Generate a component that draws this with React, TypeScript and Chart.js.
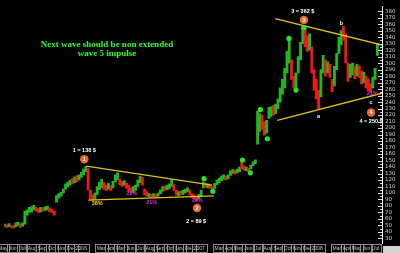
import React, { useEffect, useRef } from 'react';
import { Chart, registerables } from 'chart.js';

Chart.register(...registerables);

// x positions are weeks counted from 1 Jan 2006
const firstWeek = -34;
const lows = [
  48, 47, 48, 47, 46, 48, 50, 47, 49, 52,
  66, 70, 71, 74, 72, 70, 71, 72, 73, 74,
  71, 70, 66, 86, 92, 95, 100, 106, 109, 112,
  114, 116, 117, 120, 124, 128, 133, 105, 90, 89,
  90, 98, 105, 108, 106, 104, 106, 104, 108, 117,
  120, 113, 110, 112, 107, 103, 100, 101, 104, 110,
  116, 112, 97, 95, 94, 93, 94, 93, 95, 99,
  103, 104, 105, 107, 110, 104, 97, 96, 97, 98,
  100, 102, 97, 93, 91, 89, 91, 95, 108, 109,
  108, 107, 105, 107, 113, 116, 119, 121, 120, 122,
  127, 130, 129, 131, 133, 137, 135, 134, 133, 137,
  142, 145, 175, 195, 198, 189, 192, 215, 218, 220,
  222, 230, 240, 252, 262, 285, 300, 275, 262, 262,
  285, 305, 330, 325, 318, 320, 285, 258, 245, 230,
  248, 285, 280, 285, 278, 256, 265, 290, 315, 328,
  335, 300, 272, 278, 282, 276, 280, 278, 268, 270,
  262, 258, 255, 262, 275, 312,
];
const highs = [
  52, 51, 53, 50, 50, 54, 55, 53, 54, 72,
  74, 78, 79, 81, 78, 76, 78, 77, 79, 80,
  77, 75, 72, 96, 99, 101, 106, 114, 117, 120,
  122, 125, 127, 128, 132, 137, 141, 138, 104, 97,
  100, 110, 117, 121, 116, 112, 115, 111, 118, 128,
  131, 122, 118, 119, 115, 112, 108, 110, 112, 120,
  126, 124, 106, 102, 99, 98, 99, 98, 100, 105,
  110, 111, 112, 114, 121, 113, 104, 102, 103, 104,
  106, 108, 105, 99, 97, 95, 98, 104, 117, 115,
  114, 112, 110, 115, 120, 123, 126, 128, 126, 128,
  134, 136, 135, 137, 140, 146, 142, 140, 138, 143,
  148, 151, 226, 222, 220, 210, 212, 232, 233, 235,
  237, 245, 262, 275, 292, 318, 338, 305, 280, 285,
  310, 332, 358, 352, 342, 345, 325, 290, 275, 258,
  290, 312, 305, 302, 298, 275, 295, 315, 340, 350,
  357, 345, 300, 298, 300, 295, 298, 296, 288, 286,
  280, 276, 268, 278, 292, 330,
];
// g = up bar, r = down bar
const candleDirs =
  'grgrrggrgg' + 'ggggrrgrgg' + 'rrrggggggg' + 'rgrggggrrr' +
  'ggggrrgrgg' + 'grrgrrrggg' + 'grrrgrgrgg' + 'grgggrrgrg' +
  'ggrrrrgggr' + 'grrgggggrg' + 'ggrggrrgrg' + 'ggggrrgggr' +
  'gggggggrrg' + 'gggrrgrrrr' + 'ggrgrrgggg' + 'rrrggrgrrg' + 'rrrggg';

// month labels, starting May 2005 (month -8 relative to Jan 2006)
const firstMonth = -8;
const monthLabels = [
  'May', 'Jun', 'Jul', 'Aug', 'Sep', 'Oct', 'Nov', 'Dec',
  '2006', '', 'Mar', 'Apr', 'May', 'Jun', 'Jul', 'Aug', 'Sep', 'Oct', 'Nov', 'Dec',
  '2007', '', 'Mar', 'Apr', 'May', 'Jun', 'Jul', 'Aug', 'Sep', 'Oct', 'Nov', 'Dec',
  '2008', '', 'Mar', 'Apr', 'May', 'Jun', 'Jul',
];

const upperLine1 = [{ x: 2.2, y: 141.5 }, { x: 57.8, y: 112 }];
const lowerLine1 = [{ x: 3.1, y: 89 }, { x: 58.6, y: 95.5 }];
const upperLine2 = [{ x: 85.8, y: 368.5 }, { x: 133.5, y: 327.5 }];
const lowerLine2 = [{ x: 86.7, y: 212 }, { x: 133.5, y: 254 }];

const swingDots = [
  { x: 54.3, y: 122 }, { x: 58.2, y: 102.5 }, { x: 71.3, y: 150.5 },
  { x: 74.8, y: 131 }, { x: 82.3, y: 183.5 }, { x: 79.2, y: 228.5 },
  { x: 91.9, y: 338 }, { x: 95, y: 258.5 }, { x: 98.5, y: 354.5 },
];

const waveCircles = [
  { x: 1.3, y: 152, label: '1' },
  { x: 51.2, y: 77, label: '2' },
  { x: 98.5, y: 366.5, label: '3' },
  { x: 128.2, y: 224, label: '4' },
];

const notes = [
  { text: '1 = 138 $', x: 1.3, y: 165, color: '#ffffff' },
  { text: '2 = 89 $', x: 50.8, y: 55.5, color: '#ffffff' },
  { text: '3 = 362 $', x: 98, y: 380, color: '#ffffff' },
  { text: '4 = 250 $', x: 128.2, y: 210.5, color: '#ffffff' },
  { text: 'b', x: 115.1, y: 360.5, color: '#ffffff' },
  { text: 'a', x: 105, y: 218, color: '#ffffff' },
  { text: 'c', x: 128.2, y: 239, color: '#ffffff' },
  { text: '38%', x: 7, y: 84.5, color: '#e8d200' },
  { text: '21%', x: 22.3, y: 99.5, color: '#e020e0' },
  { text: '21%', x: 31.1, y: 86, color: '#e020e0' },
  { text: '29%', x: 51.2, y: 89, color: '#e020e0' },
  { text: '21%', x: 128.7, y: 254, color: '#e020e0' },
];

const titleLines = ['Next wave should be non extended', 'wave 5 impulse'];

const WEEKS_PER_MONTH = 365.25 / 12 / 7;

const overlay = {
  id: 'overlay',
  beforeDraw(chart: any) {
    const { ctx, width, height } = chart;
    ctx.save();
    ctx.fillStyle = '#000000';
    ctx.fillRect(0, 0, width, height);
    ctx.restore();
  },
  afterDraw(chart: any) {
    const { ctx, chartArea, scales } = chart;
    const xs = scales.x;
    const ys = scales.y;
    ctx.save();
    // y tick marks (inward)
    ctx.strokeStyle = '#d8d8d8';
    ctx.lineWidth = 1;
    ys.ticks.forEach((t: any) => {
      const py = Math.round(ys.getPixelForValue(t.value)) + 0.5;
      const len = t.value % 10 === 0 ? 4 : 2;
      ctx.beginPath();
      ctx.moveTo(chartArea.right - len, py);
      ctx.lineTo(chartArea.right, py);
      ctx.stroke();
    });
    // month cells
    ctx.font = '5px "Liberation Sans"';
    ctx.textAlign = 'center';
    ctx.textBaseline = 'middle';
    const cy = chartArea.bottom + 5;
    monthLabels.forEach((lab, i) => {
      if (!lab) return;
      const w = (firstMonth + i) * WEEKS_PER_MONTH;
      const px = xs.getPixelForValue(w);
      const tw = ctx.measureText(lab).width;
      if (px + tw / 2 > chartArea.right) return;
      ctx.strokeStyle = '#8a8a8a';
      ctx.strokeRect(Math.round(px - tw / 2 - 2) + 0.5, chartArea.bottom + 1.5, Math.round(tw + 4), 8);
      ctx.fillStyle = '#c8c8c8';
      ctx.fillText(lab, px, cy + 0.5);
    });
    ctx.fillStyle = '#d4d4d4';
    ctx.fillRect(chartArea.right + 1, chartArea.bottom + 3, 400, 10);
    // title
    ctx.font = 'bold 9px "Liberation Serif"';
    ctx.fillStyle = '#2bff2b';
    ctx.textAlign = 'center';
    ctx.fillText(titleLines[0], 107, 45);
    ctx.fillText(titleLines[1], 107, 54);
    // notes
    ctx.font = 'bold 5.5px "Liberation Sans"';
    notes.forEach((n) => {
      ctx.fillStyle = n.color;
      ctx.fillText(n.text, xs.getPixelForValue(n.x), ys.getPixelForValue(n.y));
    });
    // wave circle numbers
    ctx.font = 'bold 5.5px "Liberation Sans"';
    ctx.fillStyle = '#ffffff';
    waveCircles.forEach((c) => {
      ctx.fillText(c.label, xs.getPixelForValue(c.x), ys.getPixelForValue(c.y) + 0.5);
    });
    ctx.restore();
  },
};

export default function App() {
  const ref = useRef<HTMLCanvasElement | null>(null);
  useEffect(() => {
    if (!ref.current) return;
    const bars = lows.map((lo, i) => ({ x: firstWeek + i, y: [lo, highs[i]] }));
    const barColors = lows.map((_, i) => (candleDirs[i] === 'g' ? '#1fb81f' : '#f01818'));
    const lineDs = (data: any) => ({
      type: 'line',
      data,
      borderColor: '#dcc21e',
      borderWidth: 1.3,
      pointRadius: 0,
      order: 2,
    });
    const chart = new Chart(ref.current, {
      type: 'bar',
      data: {
        datasets: [
          {
            type: 'bar',
            data: bars as any,
            backgroundColor: barColors,
            barThickness: 2.2,
            order: 3,
          } as any,
          lineDs(upperLine1),
          lineDs(lowerLine1),
          lineDs(upperLine2),
          lineDs(lowerLine2),
          {
            type: 'scatter',
            data: swingDots,
            backgroundColor: '#22e622',
            borderWidth: 0,
            pointRadius: 2.6,
            order: 1,
          },
          {
            type: 'scatter',
            data: waveCircles,
            backgroundColor: '#f0662a',
            borderWidth: 0,
            pointRadius: 4.2,
            order: 0,
          },
        ] as any,
      },
      options: {
        animation: false,
        responsive: true,
        maintainAspectRatio: false,
        layout: { padding: { left: 0, right: 0, top: 0, bottom: 10 } },
        plugins: { legend: { display: false }, tooltip: { enabled: false }, title: { display: false } },
        scales: {
          x: {
            type: 'linear',
            min: -34.15,
            max: 133.05,
            display: false,
            offset: false,
            grid: { offset: false },
          },
          y: {
            type: 'linear',
            position: 'right',
            min: 23,
            max: 387.5,
            afterBuildTicks: (s: any) => {
              s.ticks = s.ticks.filter((t: any) => t.value % 5 === 0);
            },
            afterFit: (s: any) => {
              s.width = 18;
            },
            ticks: {
              stepSize: 5,
              autoSkip: false,
              color: '#cfcfcf',
              padding: 3,
              font: { size: 5.5, family: 'DejaVu Sans' },
              callback: (v: any) => (Number(v) % 10 === 0 ? String(v) : ''),
            },
            grid: { display: true, drawOnChartArea: false, drawTicks: false },
            border: { display: true, color: '#ffffff', width: 1 },
          },
        },
      } as any,
      plugins: [overlay],
    });
    return () => chart.destroy();
  }, []);
  return (
    <div style={{ position: 'fixed', left: 0, top: 0, width: 400, height: 253, background: '#000' }}>
      <canvas ref={ref} />
    </div>
  );
}
